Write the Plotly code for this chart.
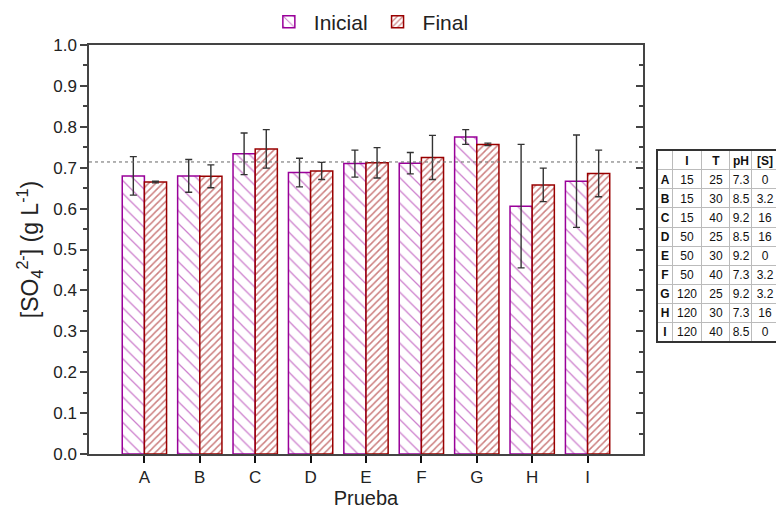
import plotly.graph_objects as go

# ---- data ----
categories = ["A", "B", "C", "D", "E", "F", "G", "H", "I"]
inicial = [0.680, 0.680, 0.734, 0.688, 0.710, 0.711, 0.775, 0.606, 0.667]
inicial_err = [0.047, 0.040, 0.051, 0.035, 0.033, 0.026, 0.018, 0.151, 0.113]
final = [0.665, 0.679, 0.746, 0.692, 0.712, 0.725, 0.757, 0.658, 0.686]
final_err = [0.002, 0.028, 0.047, 0.021, 0.037, 0.054, 0.003, 0.041, 0.057]
ref_line = 0.714

table_header = ["", "I", "T", "pH", "[S]"]
table_I = [15, 15, 15, 50, 50, 50, 120, 120, 120]
table_T = [25, 30, 40, 25, 30, 40, 25, 30, 40]
table_pH = [7.3, 8.5, 9.2, 8.5, 9.2, 7.3, 9.2, 7.3, 8.5]
table_S = ["0", "3.2", "16", "16", "0", "3.2", "3.2", "16", "0"]
table_colwidths = [15, 30, 28, 23, 26]

PURPLE = "#990099"
DARKRED = "#990000"
AXIS = "#444444"
FONT = "Liberation Sans, Arial, sans-serif"

fig = go.Figure()

fig.add_trace(go.Bar(
    x=categories, y=inicial, name="Inicial",
    marker=dict(color="white", line=dict(color=PURPLE, width=1.5),
                pattern=dict(shape="\\", fgcolor=PURPLE, size=9, solidity=0.14)),
    error_y=dict(type="data", array=inicial_err, color="#333333", thickness=1.4, width=3.5),
))
fig.add_trace(go.Bar(
    x=categories, y=final, name="Final",
    marker=dict(color="white", line=dict(color=DARKRED, width=1.5),
                pattern=dict(shape="/", fgcolor=DARKRED, size=5, solidity=0.3)),
    error_y=dict(type="data", array=final_err, color="#333333", thickness=1.4, width=3.5),
))

# invisible trace to anchor the mirrored right axis
fig.add_trace(go.Scatter(x=categories[:1], y=[0], yaxis="y2", mode="markers",
                         marker=dict(opacity=0), showlegend=False, hoverinfo="skip"))

fig.add_hline(y=ref_line, line=dict(color="#666666", width=1, dash="dot"))

# ---- parameter table drawn as a transparent heatmap grid ----
col_edges = [0]
for w in table_colwidths:
    col_edges.append(col_edges[-1] + w)
n_rows = len(categories) + 1
row_edges = list(range(n_rows + 1))

cell_text = [["<b>%s</b>" % h for h in table_header]]
for i, c in enumerate(categories):
    cell_text.append(["<b>%s</b>" % c, str(table_I[i]), str(table_T[i]),
                      f"{table_pH[i]:.1f}", table_S[i]])
cell_z = [[0] * len(table_header) for _ in range(n_rows)]

fig.add_trace(go.Heatmap(
    x=col_edges, y=row_edges, z=cell_z, text=cell_text, texttemplate="%{text}",
    textfont=dict(family=FONT, size=12, color="#111111"),
    colorscale=[[0, "rgba(255,255,255,0)"], [1, "rgba(255,255,255,0)"]],
    showscale=False, hoverinfo="skip",
    xaxis="x3", yaxis="y3",
))

fig.update_layout(
    width=776, height=502,
    margin=dict(l=81, r=4, t=37, b=56, autoexpand=False),
    paper_bgcolor="white", plot_bgcolor="white",
    font=dict(family=FONT, size=17, color="#222222"),
    barmode="group", bargap=0.2, bargroupgap=0.0,
    legend=dict(orientation="h", x=0.405, xanchor="center", y=1.056, yanchor="middle",
                font=dict(size=21), itemwidth=40, traceorder="normal"),
    showlegend=True,
    xaxis=dict(domain=[0, 0.8017], range=[-1, 9], type="category",
               showline=True, linecolor=AXIS, linewidth=1.5, mirror=True,
               ticks="outside", ticklen=7, tickcolor="#111111", tickwidth=1.5,
               tickfont=dict(size=17), showgrid=False, zeroline=False,
               title=dict(text="Prueba", font=dict(size=20), standoff=3)),
    yaxis=dict(range=[0, 1.0], dtick=0.1, tickformat=".1f",
               showline=True, linecolor=AXIS, linewidth=1.5,
               ticks="outside", ticklen=7, tickcolor=AXIS, tickwidth=1.5,
               minor=dict(ticks="outside", ticklen=4, dtick=0.05, tickcolor=AXIS, tickwidth=1.5),
               tickfont=dict(size=17), showgrid=False, zeroline=False,
               title=dict(text="[SO<sub>4</sub><sup>2-</sup>] (g L<sup>-1</sup>)",
                          font=dict(size=23), standoff=8)),
    yaxis2=dict(range=[0, 1.0], dtick=0.1, overlaying="y", side="right", anchor="x",
                showline=True, linecolor=AXIS, linewidth=1.5,
                ticks="inside", ticklen=7, tickcolor=AXIS, tickwidth=1.5,
                minor=dict(ticks="inside", ticklen=4, dtick=0.05, tickcolor=AXIS, tickwidth=1.5),
                showticklabels=False, showgrid=False, zeroline=False),
    xaxis3=dict(domain=[0.8234, 0.996], anchor="y3", range=[0, col_edges[-1]],
                tickvals=col_edges, showticklabels=False, ticks="",
                showgrid=True, gridcolor="#bbbbbb", gridwidth=1,
                showline=True, linecolor="#333333", linewidth=1.5, mirror=True,
                zeroline=False, fixedrange=True),
    yaxis3=dict(domain=[0.276, 0.741], anchor="x3", range=[n_rows, 0],
                tickvals=row_edges, showticklabels=False, ticks="",
                showgrid=True, gridcolor="#bbbbbb", gridwidth=1,
                showline=True, linecolor="#333333", linewidth=1.5, mirror=True,
                zeroline=False, fixedrange=True),
)

fig.write_html("out.html")
